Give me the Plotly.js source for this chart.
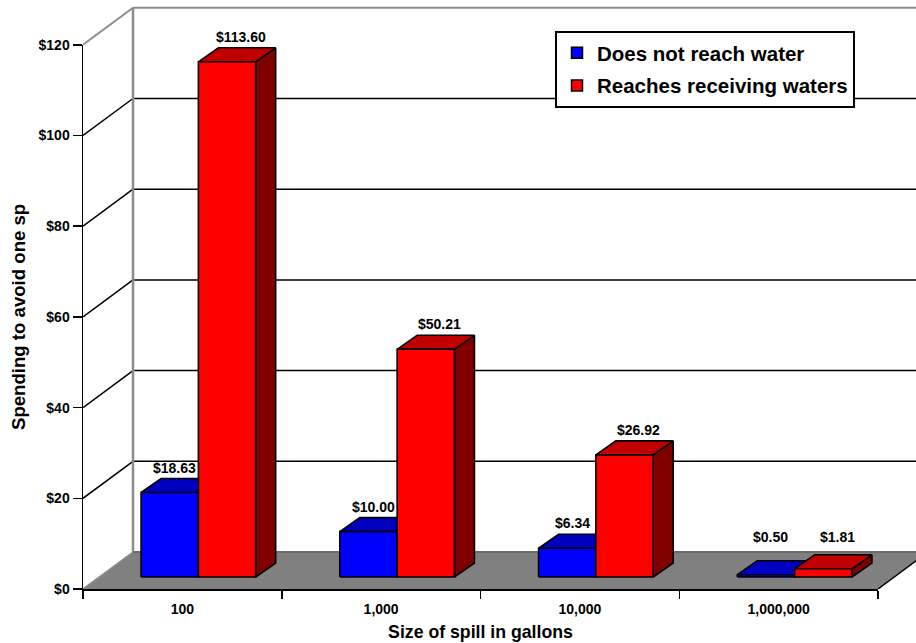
<!DOCTYPE html>
<html>
<head>
<meta charset="utf-8">
<script src="https://cdn.plot.ly/plotly-3.0.1.min.js"></script>
<style>
  html, body { margin: 0; padding: 0; background: #ffffff; }
  #chart { width: 916px; height: 643px; }
</style>
</head>
<body>
<div id="chart"></div>
<script>
// ---- data ----
const categories = ['100', '1,000', '10,000', '1,000,000'];
const seriesNames = ['Does not reach water', 'Reaches receiving waters'];
const notReachWater = [18.63, 10.00, 6.34, 0.50];
const reachesWaters = [113.60, 50.21, 26.92, 1.81];
const yTickVals = [0, 20, 40, 60, 80, 100, 120];
const yTickText = ['$0', '$20', '$40', '$60', '$80', '$100', '$120'];

// ---- look ----
const FONT = 'Liberation Sans, Arial, Helvetica, sans-serif';
const faceColors = [
  { front: '#0000ff', top: '#0000c0', side: '#000080' },
  { front: '#ff0000', top: '#c00000', side: '#800000' }
];

// ---- page geometry (pixels) ----
const FIG_W = 916, FIG_H = 643;
const MARGIN = { l: 83, r: 0, t: 4, b: 54 };
const PLOT_W = FIG_W - MARGIN.l - MARGIN.r;
const PLOT_H = FIG_H - MARGIN.t - MARGIN.b;
const CAT_PX = 198.75;   // pixels per category slot on the front axis
const USD_PX = 4.535;    // pixels per dollar
const px2x = p => p / CAT_PX;
const px2y = p => p / USD_PX;

// oblique projection offsets, in axis units
const WALL_DX = px2x(50), WALL_DY = px2y(37);   // front plane -> back wall
const BAR_DX = px2x(16), BAR_DY = px2y(12);     // front plane -> bar front faces
const DEPTH_DX = px2x(20), DEPTH_DY = px2y(14); // bar thickness
const BAR_W = px2x(57.3);

const nCat = categories.length;
const xLeft = -0.5, xRight = nCat - 0.5;

const traces = [];
function poly(xs, ys, fill, lineColor, lineWidth) {
  traces.push({
    type: 'scatter', mode: 'lines',
    x: xs.concat([xs[0]]), y: ys.concat([ys[0]]),
    fill: 'toself', fillcolor: fill,
    line: { color: lineColor, width: lineWidth },
    xaxis: 'x2', yaxis: 'y2', hoverinfo: 'skip', showlegend: false
  });
}
function seg(xs, ys, color, width) {
  traces.push({
    type: 'scatter', mode: 'lines', x: xs, y: ys,
    line: { color: color, width: width },
    xaxis: 'x2', yaxis: 'y2', hoverinfo: 'skip', showlegend: false
  });
}

// floor
poly([xLeft, xRight, xRight + WALL_DX, xLeft + WALL_DX],
     [0, 0, WALL_DY, WALL_DY], '#808080', 'rgba(0,0,0,0)', 0);
seg([xLeft, xLeft + WALL_DX], [0, WALL_DY], '#8c8c8c', 1.5);
seg([xLeft + WALL_DX, xRight + WALL_DX], [WALL_DY, WALL_DY], '#6a6a6a', 2);
seg([xRight, xRight + WALL_DX], [0, WALL_DY], '#000000', 1.5);

// back wall + side wall lines at each tick level
const topVal = yTickVals[yTickVals.length - 1];
yTickVals.forEach(v => {
  if (v === 0) return;
  const col = v === topVal ? '#8c8c8c' : '#000000';
  const w = v === topVal ? 2 : 1.5;
  seg([xLeft, xLeft + WALL_DX], [v, v + WALL_DY], col, w);
  seg([xLeft + WALL_DX, xRight + WALL_DX], [v + WALL_DY, v + WALL_DY], col, w);
});
seg([xLeft + WALL_DX, xLeft + WALL_DX], [WALL_DY, topVal + WALL_DY], '#8c8c8c', 2.5);

// 3-D bars, painted left to right so nearer faces cover hidden ones
const allSeries = [notReachWater, reachesWaters];
const annotations = [];
categories.forEach((cat, i) => {
  allSeries.forEach((vals, s) => {
    const v = vals[i];
    const x0 = i + BAR_DX - BAR_W + s * BAR_W;
    const x1 = x0 + BAR_W;
    const y0 = BAR_DY;
    const y1 = BAR_DY + v;
    const c = faceColors[s];
    poly([x1, x1 + DEPTH_DX, x1 + DEPTH_DX, x1],
         [y0, y0 + DEPTH_DY, y1 + DEPTH_DY, y1], c.side, '#000', 1.6);
    poly([x0, x1, x1 + DEPTH_DX, x0 + DEPTH_DX],
         [y1, y1, y1 + DEPTH_DY, y1 + DEPTH_DY], c.top, '#000', 1.6);
    poly([x0, x1, x1, x0], [y0, y0, y1, y1], c.front, '#000', 1.6);

    annotations.push({
      xref: 'x2', yref: 'y2',
      x: (x0 + x1) / 2,
      y: Math.max(y1 + px2y(25), px2y(52)),
      xshift: s === 0 ? 5 : 14,
      text: '$' + v.toFixed(2),
      showarrow: false,
      font: { family: FONT, size: 14, weight: 'bold', color: '#000' }
    });
  });
});

// legend entries
seriesNames.forEach((name, s) => {
  traces.push({
    type: 'scatter', mode: 'markers', x: [null], y: [null],
    name: name, legendgroup: 'g' + s,
    marker: { symbol: 'square', size: 11, color: faceColors[s].front,
              line: { color: '#000', width: 1.5 } },
    xaxis: 'x', yaxis: 'y', hoverinfo: 'skip'
  });
});

const boundaries = categories.map((c, i) => i - 0.5).concat([nCat - 0.5]);

const layout = {
  width: FIG_W, height: FIG_H,
  margin: MARGIN,
  paper_bgcolor: '#ffffff',
  plot_bgcolor: 'rgba(0,0,0,0)',
  font: { family: FONT, color: '#000' },
  showlegend: true,
  legend: {
    x: (555 - MARGIN.l) / PLOT_W, y: (FIG_H - MARGIN.b - 31) / PLOT_H,
    xanchor: 'left', yanchor: 'top',
    bgcolor: '#ffffff', bordercolor: '#000', borderwidth: 2,
    font: { family: FONT, size: 20.5, weight: 'bold', color: '#000' },
    tracegroupgap: 3
  },
  xaxis: {
    domain: [0, (xRight - xLeft) * CAT_PX / PLOT_W],
    range: [xLeft, xRight], anchor: 'y',
    tickmode: 'array', tickvals: categories.map((c, i) => i), ticktext: categories,
    ticks: '', ticklabelstandoff: 6,
    minor: { tickmode: 'array', tickvals: boundaries, ticks: 'outside',
             ticklen: 8, tickwidth: 1.5, tickcolor: '#000', showgrid: false },
    showline: true, linecolor: '#000', linewidth: 2,
    showgrid: false, zeroline: false, fixedrange: true,
    tickfont: { family: FONT, size: 14, weight: 'bold', color: '#000' },
    title: { text: 'Size of spill in gallons', standoff: 10,
             font: { family: FONT, size: 17.7, weight: 'bold', color: '#000' } }
  },
  yaxis: {
    domain: [0, topVal * USD_PX / PLOT_H],
    range: [0, topVal], anchor: 'x',
    tickmode: 'array', tickvals: yTickVals, ticktext: yTickText,
    ticks: 'outside', ticklen: 9, tickwidth: 1.5, tickcolor: '#000',
    showline: true, linecolor: '#000', linewidth: 1.5,
    showgrid: false, zeroline: false, fixedrange: true,
    tickfont: { family: FONT, size: 14, weight: 'bold', color: '#000' },
    title: { text: 'Spending to avoid one sp', standoff: 8,
             font: { family: FONT, size: 18.6, weight: 'bold', color: '#000' } }
  },
  xaxis2: {
    domain: [0, 1], range: [xLeft, xLeft + PLOT_W / CAT_PX],
    anchor: 'y2', visible: false, fixedrange: true
  },
  yaxis2: {
    domain: [0, 1], range: [0, PLOT_H / USD_PX],
    anchor: 'x2', visible: false, fixedrange: true
  },
  annotations: annotations
};

Plotly.newPlot('chart', traces, layout, { displayModeBar: false, staticPlot: true });
</script>
</body>
</html>
